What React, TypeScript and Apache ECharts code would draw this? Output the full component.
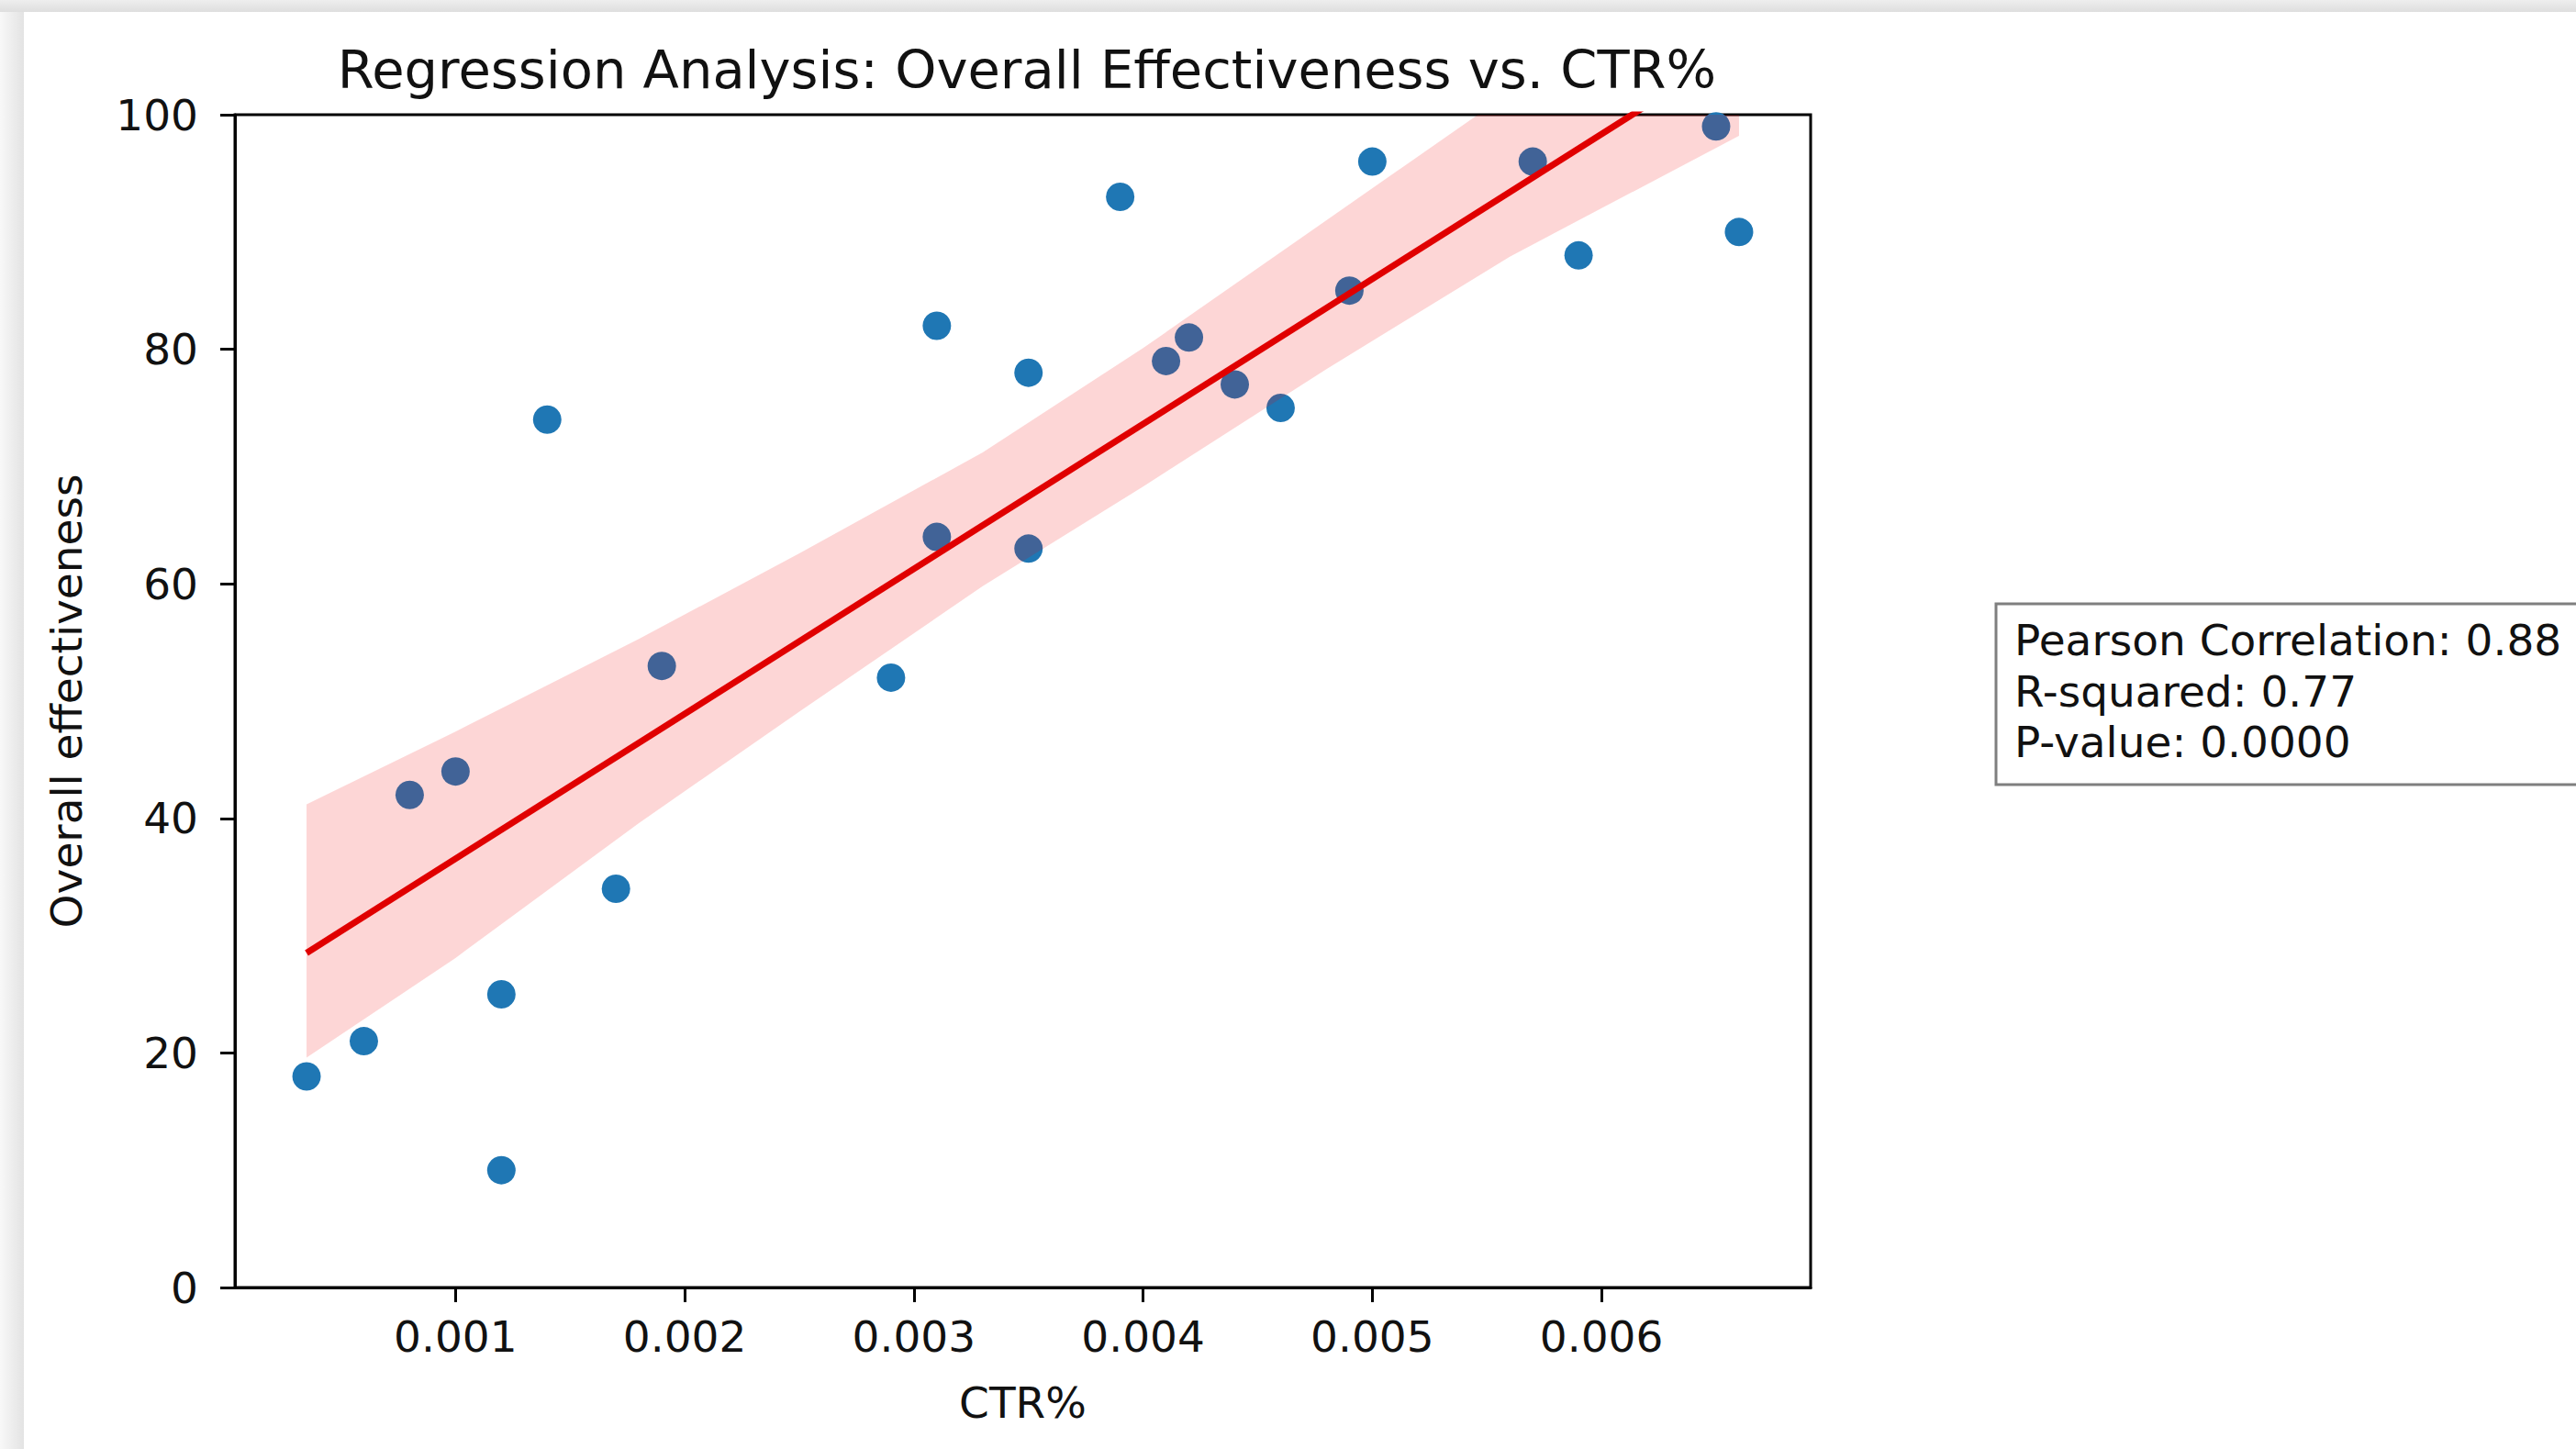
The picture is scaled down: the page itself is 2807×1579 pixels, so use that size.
import React, { useEffect, useRef } from "react";
import * as echarts from "echarts";

// ---- data ----
const ctr = [
  0.00035, 0.0006, 0.0008, 0.001, 0.0012, 0.0012, 0.0014, 0.0017, 0.0019, 0.0029,
  0.0031, 0.0031, 0.0035, 0.0035, 0.0039, 0.0041, 0.0042, 0.0044, 0.0046, 0.0049,
  0.005, 0.0057, 0.0059, 0.0065, 0.0066,
];
const effectiveness = [
  18, 21, 42, 44, 25, 10, 74, 34, 53, 52,
  64, 82, 78, 63, 93, 79, 81, 77, 75, 85,
  96, 96, 88, 99, 90,
];
// confidence band edges
const bandX = [0.00035, 0.001, 0.0018, 0.0025, 0.0033, 0.004, 0.0048, 0.0056, 0.0066];
const bandLower = [19.6, 28.1, 39.6, 49.1, 59.8, 68.3, 78.3, 87.9, 98.2];
const bandUpper = [41.2, 47.4, 55.3, 62.6, 71.2, 80.1, 91.0, 101.9, 114.8];

const xTicks = [0.001, 0.002, 0.003, 0.004, 0.005, 0.006];
const xRange = [0.0000375, 0.0069125];
const yRange = [0, 100];

const titleText = "Regression Analysis: Overall Effectiveness vs. CTR%";
const xName = "CTR%";
const yName = "Overall effectiveness";
const statsLines = ["Pearson Correlation: 0.88", "R-squared: 0.77", "P-value: 0.0000"];

const FONT = "DejaVu Sans";
const TEXT = "#111111";

function olsFit(xs: number[], ys: number[]) {
  const n = xs.length;
  const mx = xs.reduce((a, b) => a + b, 0) / n;
  const my = ys.reduce((a, b) => a + b, 0) / n;
  let sxy = 0;
  let sxx = 0;
  for (let i = 0; i < n; i++) {
    sxy += (xs[i] - mx) * (ys[i] - my);
    sxx += (xs[i] - mx) * (xs[i] - mx);
  }
  const slope = sxy / sxx;
  return { slope, intercept: my - slope * mx };
}

export default function App() {
  const ref = useRef<HTMLDivElement>(null);

  useEffect(() => {
    if (!ref.current) return;
    const chart = echarts.init(ref.current, undefined, { renderer: "svg" });
    const fit = olsFit(ctr, effectiveness);
    const xMin = Math.min(...ctr);
    const xMax = Math.max(...ctr);
    const fitLine = [
      [xMin, fit.intercept + fit.slope * xMin],
      [xMax, fit.intercept + fit.slope * xMax],
    ];

    const option: any = {
      animation: false,
      backgroundColor: "#ffffff",
      title: {
        text: titleText,
        left: 1114,
        top: 42,
        textAlign: "center",
        textStyle: { fontSize: 57.5, fontWeight: "normal", fontFamily: FONT, color: TEXT },
      },
      grid: {
        left: 256,
        top: 125,
        width: 1717,
        height: 1278,
        show: true,
        borderColor: "#000",
        borderWidth: 3,
        backgroundColor: "transparent",
      },
      xAxis: {
        type: "value",
        min: xRange[0],
        max: xRange[1],
        splitLine: { show: false },
        axisLine: { show: true, onZero: false, lineStyle: { color: "#000", width: 3 } },
        axisTick: { show: true, length: 16, lineStyle: { color: "#000", width: 3 }, customValues: xTicks },
        axisLabel: {
          customValues: xTicks,
          formatter: (v: number) => v.toFixed(3),
          fontSize: 47,
          fontFamily: FONT,
          color: TEXT,
          margin: 30,
        },
        name: xName,
        nameLocation: "middle",
        nameGap: 102,
        nameTextStyle: { fontSize: 47, fontFamily: FONT, color: TEXT },
      },
      yAxis: {
        type: "value",
        min: yRange[0],
        max: yRange[1],
        interval: 20,
        splitLine: { show: false },
        axisLine: { show: true, onZero: false, lineStyle: { color: "#000", width: 3 } },
        axisTick: { show: true, length: 16, lineStyle: { color: "#000", width: 3 } },
        axisLabel: { fontSize: 47, fontFamily: FONT, color: TEXT, margin: 40 },
        name: yName,
        nameLocation: "middle",
        nameGap: 160,
        nameRotate: 90,
        nameTextStyle: { fontSize: 47, fontFamily: FONT, color: TEXT },
      },
      series: [
        {
          type: "scatter",
          data: ctr.map((x, i) => [x, effectiveness[i]]),
          symbolSize: 31,
          itemStyle: { color: "#1f77b4", opacity: 1 },
          z: 2,
        },
        {
          type: "custom",
          data: bandX.map((x, i) => [x, bandLower[i], bandUpper[i]]),
          encode: { x: 0, y: [1, 2] },
          clip: true,
          silent: true,
          z: 3,
          renderItem: (params: any, api: any) => {
            if (params.dataIndex !== 0) return null;
            const upper = bandX.map((x, i) => api.coord([x, bandUpper[i]]));
            const lower = bandX.map((x, i) => api.coord([x, bandLower[i]])).reverse();
            const cs = params.coordSys;
            return {
              type: "polygon",
              shape: { points: upper.concat(lower) },
              style: { fill: "rgba(245, 0, 0, 0.16)" },
              clipPath: {
                type: "rect",
                shape: { x: cs.x, y: cs.y, width: cs.width, height: cs.height },
              },
            };
          },
        },
        {
          type: "line",
          data: fitLine,
          symbol: "none",
          lineStyle: { color: "#e00000", width: 7 },
          z: 4,
        },
      ],
      graphic: [
        {
          type: "rect",
          shape: { x: 0, y: 0, width: 2807, height: 13 },
          style: {
            fill: {
              type: "linear", x: 0, y: 0, x2: 0, y2: 1,
              colorStops: [
                { offset: 0, color: "#eeeeee" },
                { offset: 1, color: "#dedede" },
              ],
            },
          },
          silent: true,
        },
        {
          type: "rect",
          shape: { x: 0, y: 13, width: 26, height: 1566 },
          style: {
            fill: {
              type: "linear", x: 0, y: 0, x2: 1, y2: 0,
              colorStops: [
                { offset: 0, color: "#f8f8f8" },
                { offset: 1, color: "#e3e3e3" },
              ],
            },
          },
          silent: true,
        },
        {
          type: "group",
          x: 2175,
          y: 658,
          children: [
            {
              type: "rect",
              shape: { x: 0, y: 0, width: 720, height: 197 },
              style: { fill: "#ffffff", stroke: "#7f7f7f", lineWidth: 3 },
            },
            {
              type: "text",
              x: 20,
              y: 12,
              style: {
                text: statsLines.join("\n"),
                font: `47px "${FONT}"`,
                fill: TEXT,
                lineHeight: 55.5,
              },
            },
          ],
        },
      ],
    };

    chart.setOption(option);
    return () => chart.dispose();
  }, []);

  return (
    <div
      ref={ref}
      style={{ position: "fixed", left: 0, top: 0, width: 2807, height: 1579, background: "#fff" }}
    />
  );
}
